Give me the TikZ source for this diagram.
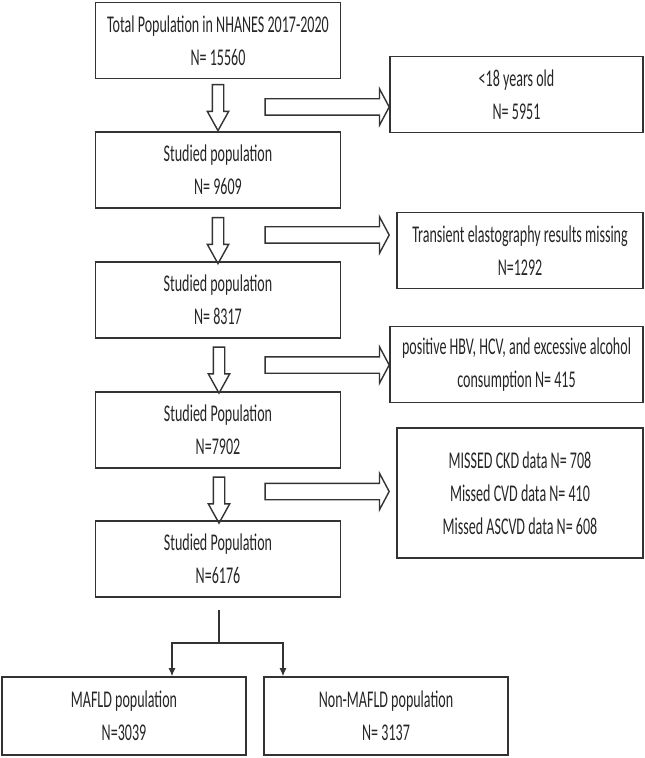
\documentclass[tikz,border=0pt]{standalone}
\usepackage{fontspec}
\setmainfont{Carlito}[FakeStretch=0.585]
\usetikzlibrary{shapes.arrows, arrows.meta}

\begin{document}
\begin{tikzpicture}[x=0.5pt, y=-0.5pt, >={Latex[length=4pt, width=3.5pt]},
  font=\fontsize{12pt}{16.5pt}\selectfont]
% --- Global Styles ---
\tikzstyle{box} = [draw=black!80, line width=0.8pt, text=black!85, align=center,
  minimum width=122.5pt, minimum height=38pt, inner sep=2pt]
\tikzstyle{outarrow} = [draw=black!80, line width=0.7pt, single arrow, inner xsep=0pt,
  inner ysep=3.75pt, minimum height=62pt, minimum width=17.5pt,
  single arrow head extend=5pt, single arrow tip angle=124]
\tikzstyle{downarrow} = [outarrow, rotate=-90, inner ysep=2.5pt, minimum height=23pt,
  minimum width=10pt, single arrow head extend=2.5pt, single arrow tip angle=58]
\tikzstyle{link} = [draw=black!80, line width=0.6pt]

% --- Column and Row Coordinates (pixels) ---
\def\xm{218}   % main column centre
\def\xa{325}   % side arrows centre

\useasboundingbox (0,0) rectangle (644,758);

% ==========================================
% MAIN COLUMN
% ==========================================
\node[box] (total)   at (\xm, 40.5) {Total Population in NHANES 2017-2020\\N= 15560};
\node[box] (studyA)  at (\xm, 170)  {Studied population\\N= 9609};
\node[box] (studyB)  at (\xm, 300)  {Studied population\\N= 8317};
\node[box] (studyC)  at (\xm, 430)  {Studied Population\\N=7902};
\node[box] (studyD)  at (\xm, 559)  {Studied Population\\N=6176};

% Down block arrows
\node[downarrow] (dnA) at (\xm, 102.5) {};
\node[downarrow] (dnB) at (\xm, 235.5) {};
\node[downarrow] (dnC) at (\xm+1, 365) {};
\node[downarrow] (dnD) at (\xm+1, 495) {};

% ==========================================
% EXCLUSIONS (right side)
% ==========================================
\node[box, minimum width=126.5pt] (age)    at (516.5, 94.5) {<18 years old\\N= 5951};
\node[box, minimum width=123pt]   (elasto) at (520, 250.5)  {Transient elastography results missing\\N=1292};
\node[box, minimum width=126.5pt] (hbv)    at (516.5, 364.5) {positive HBV, HCV, and excessive alcohol\\consumption N= 415};
\node[box, minimum width=123pt, minimum height=65pt] (missed) at (520, 493)
  {MISSED CKD data N= 708\\Missed CVD data N= 410\\Missed ASCVD data N= 608};

% Side block arrows
\node[outarrow] (outA) at (\xa, 107)   {};
\node[outarrow] (outB) at (\xa, 235)   {};
\node[outarrow] (outC) at (\xa, 365)   {};
\node[outarrow] (outD) at (\xa, 491.5) {};

% ==========================================
% SPLIT: MAFLD / Non-MAFLD
% ==========================================
\node[box, minimum width=122pt, minimum height=39pt] (mafld)    at (124, 716) {MAFLD population\\N=3039};
\node[box, minimum width=122pt, minimum height=39pt] (nonmafld) at (386, 716) {Non-MAFLD population\\N= 3137};

\coordinate (stem) at (219, 610);
\coordinate (fork) at (219, 643);
\draw[link] (stem) -- (fork);
\draw[link, ->] (fork) -| ([xshift=24pt]mafld.north);
\draw[link, ->] (fork) -| ([xshift=-51.5pt]nonmafld.north);

\end{tikzpicture}
\end{document}
